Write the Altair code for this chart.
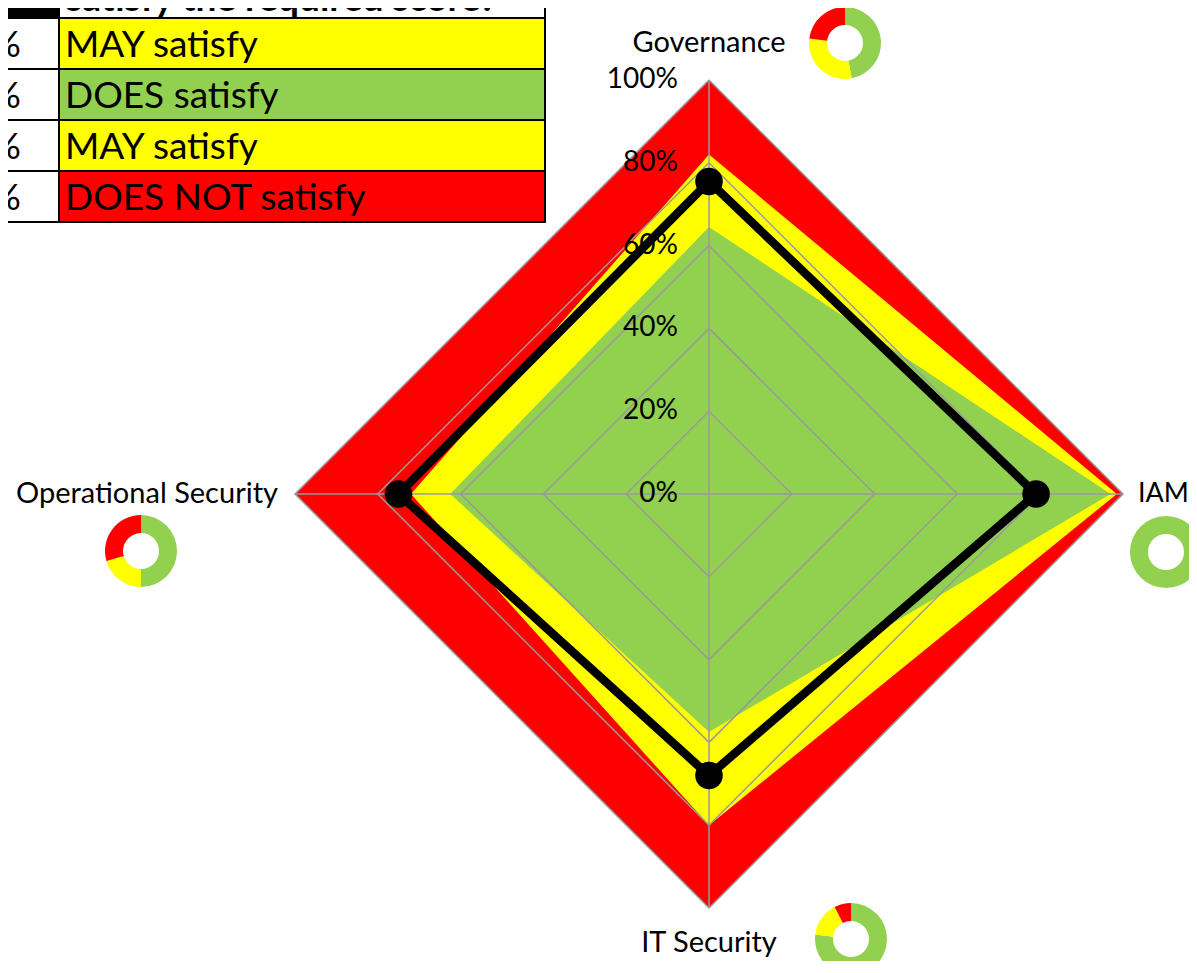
import math
import altair as alt
import pandas as pd

# ---------------- data ----------------
AXES = ["Governance", "IAM", "IT Security", "Operational Security"]
DOES_NOT = [1.00, 1.00, 1.00, 1.00]     # red band (outer limit)
MAY = [0.82, 0.985, 0.80, 0.72]         # yellow band
DOES = [0.645, 0.97, 0.575, 0.625]      # green band
SCORE = [0.755, 0.79, 0.68, 0.75]       # black line

TICKS = [0.0, 0.2, 0.4, 0.6, 0.8, 1.0]
TICK_LABELS = ["0%", "20%", "40%", "60%", "80%", "100%"]

DONUT_GREEN = [0.47, 1.00, 0.77, 0.50]
DONUT_YELLOW = [0.30, 0.00, 0.155, 0.205]
DONUT_RED = [0.23, 0.00, 0.075, 0.295]

TABLE_LEFT = ["+10%", "0%", "-10%", "-20%"]
TABLE_RIGHT = ["MAY satisfy", "DOES satisfy", "MAY satisfy", "DOES NOT satisfy"]
TABLE_COLORS = ["#FFFF00", "#92D050", "#FFFF00", "#FF0000"]
HEADER = "satisfy the required score?"

RED, YELLOW, GREEN = "#FF0000", "#FFFF00", "#92D050"
FONT = "Lato"

# ---------------- layout ----------------
W, H = 1181, 953
R = 414.0                 # pixels per 100 %
CXP, CYP = 709, 494       # page position of the radar centre
CX, CY = CXP - 8, CYP - 8
XS = alt.Scale(domain=[-CX / R, (W - CX) / R], nice=False, zero=False)
YS = alt.Scale(domain=[-(H - CY) / R, CY / R], nice=False, zero=False)


def px(page_x):
    return (page_x - CXP) / R


def py(page_y):
    return (CYP - page_y) / R


DIRS = [(0, 1), (1, 0), (0, -1), (-1, 0)]


def X(f="x"):
    return alt.X(f"{f}:Q", scale=XS, axis=None)


def Y(f="y"):
    return alt.Y(f"{f}:Q", scale=YS, axis=None)


def band(vals, color):
    df = pd.DataFrame({
        "x": [-vals[3], 0.0, vals[1]],
        "y": [0.0, vals[0], 0.0],
        "y2": [0.0, -vals[2], 0.0],
    })
    return alt.Chart(df).mark_area(color=color, interpolate="linear", opacity=1).encode(
        x=X(), y=Y(), y2="y2:Q")


layers = [band(DOES_NOT, RED), band(MAY, YELLOW), band(DOES, GREEN)]

# grid rings
ring_rows = []
for lv in TICKS[1:]:
    for i in range(5):
        dx, dy = DIRS[i % 4]
        ring_rows.append({"lv": lv, "i": i, "x": dx * lv, "y": dy * lv})
layers.append(alt.Chart(pd.DataFrame(ring_rows)).mark_line(
    color="#9a9a9a", strokeWidth=1.5).encode(
    x=X(), y=Y(), detail="lv:N", order="i:Q"))

# spokes
spk = pd.DataFrame({"x": [0.0] * 4, "y": [0.0] * 4,
                    "x2": [d[0] * 1.0 for d in DIRS], "y2": [d[1] * 1.0 for d in DIRS]})
layers.append(alt.Chart(spk).mark_rule(color="#9a9a9a", strokeWidth=1.5).encode(
    x=X(), y=Y(), x2="x2:Q", y2="y2:Q"))

# score line and points
sc_rows = []
for i in range(5):
    dx, dy = DIRS[i % 4]
    sc_rows.append({"i": i, "axis": AXES[i % 4], "x": dx * SCORE[i % 4], "y": dy * SCORE[i % 4]})
sc = pd.DataFrame(sc_rows)
layers.append(alt.Chart(sc).mark_line(color="black", strokeWidth=8.5, strokeJoin="miter").encode(
    x=X(), y=Y(), order="i:Q"))
layers.append(alt.Chart(sc.iloc[:4]).mark_circle(color="black", size=760, opacity=1).encode(
    x=X(), y=Y()))

# tick labels
tk = pd.DataFrame({"x": [0.0] * len(TICKS), "y": TICKS, "t": TICK_LABELS})
layers.append(alt.Chart(tk).mark_text(
    font=FONT, fontSize=28, align="right", baseline="middle", dx=-31, color="black").encode(
    x=X(), y=Y(), text="t:N"))

# category labels
cat = pd.DataFrame({
    "x": [0.0, 1.0, 0.0, -1.0],
    "y": [1.0, 0.0, -1.0, 0.0],
    "t": AXES,
})
offs = [(0, -37, "center", 29), (15, 0, "left", 27), (0, 35, "center", 29), (-17, 0, "right", 29)]
for i in range(4):
    dxp, dyp, al, fs = offs[i]
    layers.append(alt.Chart(cat.iloc[[i]]).mark_text(
        font=FONT, fontSize=fs, align=al, baseline="middle", dx=dxp, dy=dyp, color="black").encode(
        x=X(), y=Y(), text="t:N"))

# donuts
DONUT_CENTERS = [(845, 43), (1166, 552), (851, 939), (141, 551)]
d_rows = []
for k in range(4):
    cxp, cyp = DONUT_CENTERS[k]
    start = 0.0
    for frac, col in [(DONUT_GREEN[k], GREEN), (DONUT_YELLOW[k], YELLOW), (DONUT_RED[k], RED)]:
        if frac <= 0:
            continue
        d_rows.append({"x": px(cxp), "y": py(cyp), "t0": start * 2 * math.pi,
                       "t1": (start + frac) * 2 * math.pi, "col": col, "axis": AXES[k]})
        start += frac
layers.append(alt.Chart(pd.DataFrame(d_rows)).mark_arc(innerRadius=18, outerRadius=36).encode(
    x=X(), y=Y(),
    theta=alt.Theta("t0:Q", scale=None), theta2="t1:Q",
    color=alt.Color("col:N", scale=None)))

# table
ROW_TOP, ROW_H = 18, 51
COL_L0, COL_L1, COL_R1 = -120, 59, 545
t_rows = []
t_rows.append({"x": px(COL_L0), "x2": px(COL_L1), "y": py(-40), "y2": py(ROW_TOP), "fill": "#000000"})
t_rows.append({"x": px(COL_L1), "x2": px(COL_R1), "y": py(-40), "y2": py(ROW_TOP), "fill": "#FFFFFF"})
for i in range(len(TABLE_RIGHT)):
    top = ROW_TOP + ROW_H * i
    t_rows.append({"x": px(COL_L0), "x2": px(COL_L1), "y": py(top), "y2": py(top + ROW_H), "fill": "#FFFFFF"})
    t_rows.append({"x": px(COL_L1), "x2": px(COL_R1), "y": py(top), "y2": py(top + ROW_H), "fill": TABLE_COLORS[i]})
layers.append(alt.Chart(pd.DataFrame(t_rows)).mark_rect(stroke="black", strokeWidth=2).encode(
    x=X(), x2="x2:Q", y=Y(), y2="y2:Q", fill=alt.Fill("fill:N", scale=None)))

txt = pd.DataFrame({
    "xl": [px(21)] * 4, "xr": [px(65)] * 4,
    "y": [py(ROW_TOP + ROW_H * i + ROW_H / 2 + 2) for i in range(4)],
    "l": TABLE_LEFT, "r": TABLE_RIGHT,
})
layers.append(alt.Chart(txt).mark_text(font=FONT, fontSize=37, align="right", baseline="middle",
                                       color="black").encode(x=X("xl"), y=Y(), text="l:N"))
layers.append(alt.Chart(txt).mark_text(font=FONT, fontSize=37, align="left", baseline="middle",
                                       color="black").encode(x=X("xr"), y=Y(), text="r:N"))
hdr = pd.DataFrame({"x": [px(66)], "y": [py(11)], "t": [HEADER]})
layers.append(alt.Chart(hdr).mark_text(font=FONT, fontSize=37, fontWeight="bold", align="left",
                                       baseline="alphabetic", color="black").encode(
    x=X(), y=Y(), text="t:N"))

chart = alt.layer(*layers).properties(
    width=W, height=H, padding=0, autosize=alt.AutoSizeParams(type="none")
).configure_view(stroke=None)

chart.save("out.html", embed_options={"renderer": "svg", "actions": False})
